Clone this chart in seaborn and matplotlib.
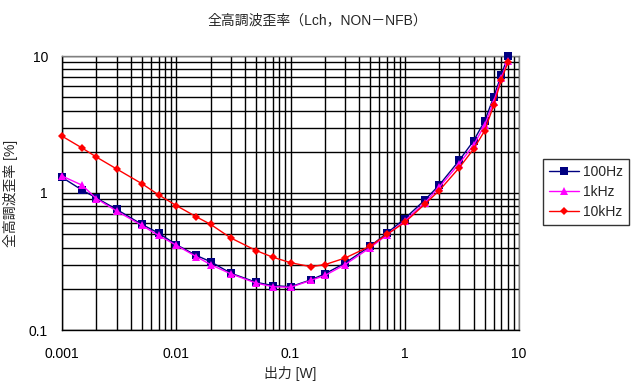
import numpy as np
import pandas as pd
import matplotlib
matplotlib.use("Agg")
import matplotlib.pyplot as plt
import seaborn as sns
from matplotlib.ticker import LogLocator, FixedLocator, FixedFormatter, NullFormatter

power_w = [0.001, 0.0015, 0.002, 0.003, 0.005, 0.007, 0.01, 0.015, 0.02, 0.03,
           0.05, 0.07, 0.1, 0.15, 0.2, 0.3, 0.5, 0.7, 1, 1.5, 2, 3, 4, 5, 6, 7, 8]

thd_100hz = [1.30, 1.05, 0.92, 0.76, 0.59, 0.51, 0.42, 0.35, 0.315, 0.26,
             0.223, 0.211, 0.207, 0.232, 0.257, 0.308, 0.41, 0.51, 0.65, 0.89,
             1.14, 1.73, 2.4, 3.35, 5.0, 7.26, 10.0]
thd_1khz = [1.33, 1.14, 0.91, 0.74, 0.58, 0.49, 0.416, 0.343, 0.30, 0.257,
            0.22, 0.207, 0.205, 0.23, 0.25, 0.30, 0.40, 0.495, 0.625, 0.85,
            1.10, 1.64, 2.23, 3.13, 4.62, 6.95, 9.2]
thd_10khz = [2.6, 2.13, 1.83, 1.5, 1.17, 0.97, 0.81, 0.67, 0.59, 0.47,
             0.38, 0.34, 0.31, 0.29, 0.30, 0.335, 0.41, 0.50, 0.61, 0.83,
             1.04, 1.53, 2.09, 2.84, 4.36, 6.7, 8.97]

series_names = ["100Hz", "1kHz", "10kHz"]
x_ticks = [0.001, 0.01, 0.1, 1, 10]
x_tick_labels = ["0.001", "0.01", "0.1", "1", "10"]
y_ticks = [0.1, 1, 10]
y_tick_labels = ["0.1", "1", "10"]

df = pd.DataFrame({
    "power": power_w * 3,
    "thd": thd_100hz + thd_1khz + thd_10khz,
    "freq": [n for n in series_names for _ in power_w],
})

sns.set_theme(style="white")
plt.rcParams["font.family"] = ["Liberation Sans", "Noto Sans CJK JP", "DejaVu Sans"]

fig = plt.figure(figsize=(6.34, 3.90), dpi=100)
ax = fig.add_axes([62 / 634, 1 - 330 / 390, (519 - 62) / 634, (330 - 56) / 390])

palette = {"100Hz": "#000080", "1kHz": "#FF00FF", "10kHz": "#FF0000"}
markers = {"100Hz": "s", "1kHz": "^", "10kHz": "D"}

sns.lineplot(data=df, x="power", y="thd", hue="freq", style="freq",
             palette=palette, markers=markers, dashes=False, ax=ax,
             linewidth=1, markersize=5.5, markeredgewidth=0, legend=False,
             sort=False)
for line in ax.get_lines():
    line.set_clip_on(False)
    line.set_zorder(3)
    # red diamonds are a bit smaller
    if line.get_marker() == "D":
        line.set_markersize(4.5)

ax.set_xscale("log")
ax.set_yscale("log")
ax.set_xlim(0.001, 10)
ax.set_ylim(0.1, 10)

ax.xaxis.set_major_locator(FixedLocator(x_ticks))
ax.xaxis.set_major_formatter(FixedFormatter(x_tick_labels))
ax.yaxis.set_major_locator(FixedLocator(y_ticks))
ax.yaxis.set_major_formatter(FixedFormatter(y_tick_labels))
ax.xaxis.set_minor_locator(LogLocator(base=10, subs=np.arange(2, 10)))
ax.yaxis.set_minor_locator(LogLocator(base=10, subs=np.arange(2, 10)))
ax.xaxis.set_minor_formatter(NullFormatter())
ax.yaxis.set_minor_formatter(NullFormatter())

ax.grid(True, which="both", color="black", linewidth=1)
ax.set_axisbelow(True)
ax.tick_params(which="both", length=0, labelsize=10, colors="black")
ax.tick_params(axis="x", pad=12)
ax.tick_params(axis="y", pad=10)

for side in ["left", "bottom"]:
    ax.spines[side].set_color("black")
for side in ["top", "right"]:
    ax.spines[side].set_color("#808080")
for s in ax.spines.values():
    s.set_linewidth(1)

ax.set_xlabel("出力 [W]", fontsize=10, labelpad=4)
ax.set_ylabel("全高調波歪率 [%]", fontsize=10)
ax.yaxis.set_label_coords(-0.096, 0.5)
fig.suptitle("全高調波歪率（Lch，NON－NFB）", fontsize=10, y=0.965)

handles = [plt.Line2D([], [], color=palette[n], marker=markers[n], linewidth=1,
                      markersize=5.5 if n != "10kHz" else 4.5, markeredgewidth=0)
           for n in series_names]
leg = fig.legend(handles, series_names, loc="upper left",
                 bbox_to_anchor=(543 / 634, 1 - 159 / 390), fontsize=10,
                 frameon=True, fancybox=False, edgecolor="black",
                 borderpad=0.4, handlelength=2.2, labelspacing=0.45,
                 handletextpad=0.3, borderaxespad=0)
leg.get_frame().set_linewidth(1)

fig.savefig("out.png", dpi=100, facecolor="white")
